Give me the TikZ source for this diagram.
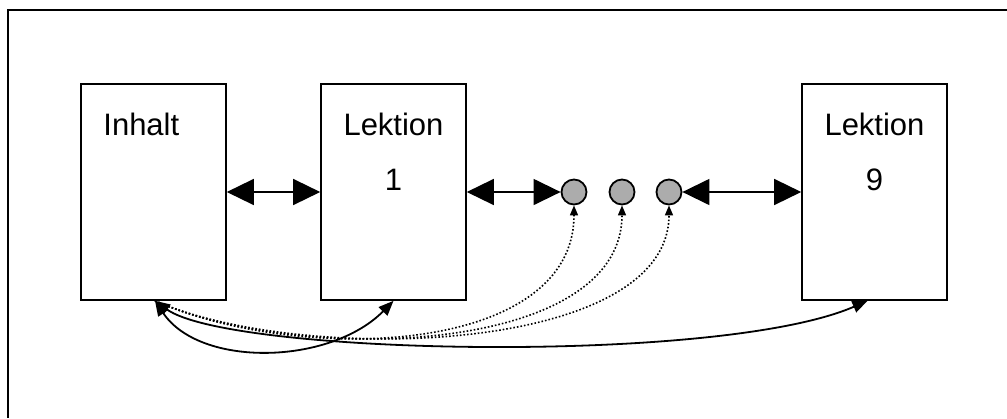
\documentclass[tikz,border=0pt]{standalone}
\usepackage{fontspec}
\setmainfont{Liberation Sans}
\usetikzlibrary{calc, arrows.meta}
\tikzset{>={Triangle[length=13.5pt,width=13pt]}}

\begin{document}
\begin{tikzpicture}[x=0.5pt, y=-0.5pt,
    lesson/.style={draw,line width=0.8pt,minimum width=72.5pt,minimum height=108pt,inner sep=0pt},
    page/.style={circle,draw,line width=0.9pt,fill=gray!65,minimum size=12.5pt,inner sep=0pt},
    lbl/.style={font=\fontsize{15.5}{18}\selectfont,inner sep=0pt,anchor=base},
    link/.style={<->,line width=0.7pt},
    back/.style={{Triangle[length=7.5pt,width=6pt]}-{Triangle[length=7.5pt,width=6pt]},line width=0.9pt},
    jump/.style={-{Triangle[length=5pt,width=4pt]},densely dotted,line width=0.8pt}
  ]

  \useasboundingbox (0,0) rectangle (1007,418);
  \draw[line width=0.8pt] (1007,10) -- (8,10) -- (8,418);

  \node[lesson] (inhalt) at (153.5,192) {};
  \node[lesson] (lek1) at (393.5,192) {};
  \node[lesson] (lek9) at (874.5,192) {};

  \node[lbl,anchor=base west] (tinhalt) at (103,135) {Inhalt};
  \node[lbl] (tlek1) at (393.5,135) {Lektion};
  \node[lbl] (nlek1) at (393.5,190) {1};
  \node[lbl] (tlek9) at (874.5,135) {Lektion};
  \node[lbl] (nlek9) at (874.5,190) {9};

  \foreach \s/\x in {1/574,2/622,3/669} {
    \node[page] (p\s) at (\x,192) {};
  }

  \draw[link] (inhalt.east) -- (lek1.west);
  \draw[link] (lek1.east) -- (p1.west);
  \draw[link] (p3.east) -- (lek9.west);

  % links back to the contents
  \coordinate (home) at ($(inhalt.south)+(1.5,0)$);
  \draw[back] (home) .. controls (200,368) and (330,365) .. (lek1.south);
  \draw[back] (home) .. controls (230,355) and (720,365) .. ($(lek9.south)+(-7,0)$);
  \foreach \s in {1,2,3} {
    \draw[jump] (home) .. controls (300,365) and ($(p\s.south)+(0,150)$) .. (p\s.south);
  }

\end{tikzpicture}
\end{document}
